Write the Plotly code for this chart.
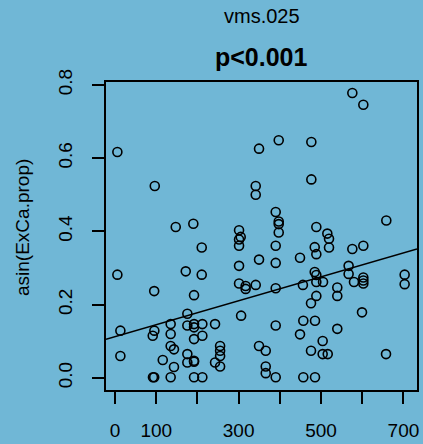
import plotly.graph_objects as go

# ---- data ----
vms_025 = [5.6, 349.5, 96.4, 341.5, 341.5, 576, 602.7, 397.3, 476.5, 476.5,
           390, 397.3, 397.3, 397.3, 147.3, 190, 488.6, 658.5, 301, 305,
           301, 301, 210.4, 515.3, 519.4, 519.4, 390, 484.7, 488.6, 576,
           602.7, 449, 349.5, 390, 301, 567, 567, 5.6, 171.6, 210.4,
           484.7, 488.6, 488.6, 504.9, 580, 602.7, 602.7, 602.7, 703, 703,
           301, 317, 317, 341.5, 390, 456, 539.5, 95, 191.7, 488.6,
           539.5, 475.7, 175.5, 306, 599.5, 12.9, 95.4, 91.5, 135, 135,
           175.5, 191.7, 191.7, 211.9, 242.7, 191.7, 211.9, 390, 457, 485.4,
           449, 539.5, 504, 135, 143, 12.9, 115.8, 175.5, 175.5, 191.7,
           191.7, 143, 242.7, 255, 255, 255, 255, 349.5, 365.8, 365.8,
           365.8, 475.7, 504, 516.3, 657.8, 92, 95, 135, 191.7, 211.9,
           390, 457, 485.4]
asin_exca_prop = [0.617, 0.626, 0.524, 0.524, 0.500, 0.778, 0.746, 0.649, 0.644, 0.542,
                  0.453, 0.427, 0.420, 0.397, 0.412, 0.421, 0.412, 0.430, 0.403, 0.385,
                  0.378, 0.361, 0.356, 0.394, 0.380, 0.356, 0.361, 0.357, 0.338, 0.352,
                  0.361, 0.328, 0.323, 0.314, 0.306, 0.306, 0.284, 0.282, 0.291, 0.282,
                  0.289, 0.281, 0.262, 0.262, 0.262, 0.274, 0.266, 0.258, 0.282, 0.256,
                  0.258, 0.251, 0.243, 0.254, 0.245, 0.254, 0.247, 0.237, 0.226, 0.224,
                  0.224, 0.204, 0.175, 0.170, 0.179, 0.129, 0.129, 0.115, 0.147, 0.120,
                  0.143, 0.147, 0.138, 0.147, 0.147, 0.106, 0.115, 0.143, 0.156, 0.156,
                  0.119, 0.134, 0.101, 0.087, 0.078, 0.060, 0.049, 0.065, 0.042, 0.047,
                  0.044, 0.030, 0.042, 0.087, 0.074, 0.060, 0.031, 0.087, 0.074, 0.031,
                  0.013, 0.074, 0.065, 0.065, 0.065, 0.002, 0.002, 0.002, 0.002, 0.002,
                  0.002, 0.002, 0.002]

fit_intercept = 0.113
fit_slope = 0.000326

x_tick_values = [0, 100, 200, 300, 400, 500, 600, 700]
x_tick_labels = ["0", "100", "", "300", "", "500", "", "700"]
y_tick_values = [0.0, 0.2, 0.4, 0.6, 0.8]
y_tick_labels = ["0.0", "0.2", "0.4", "0.6", "0.8"]

panel_title = "vms.025"
p_label = "p<0.001"
y_title = "asin(ExCa.prop)"

# ---- figure ----
x_range = [-22, 733]
y_range = [-0.033, 0.808]
bg = "#70b7d6"
font_family = "Liberation Sans, Arial, Helvetica, sans-serif"

fig = go.Figure()
fig.add_trace(go.Scatter(
    x=vms_025, y=asin_exca_prop, mode="markers",
    marker=dict(symbol="circle-open", size=9, color="black", line=dict(width=1.6)),
    hoverinfo="skip", showlegend=False, cliponaxis=False,
))
line_x = x_range
line_y = [fit_intercept + fit_slope * v for v in line_x]
fig.add_trace(go.Scatter(
    x=line_x, y=line_y, mode="lines",
    line=dict(color="black", width=1.5),
    hoverinfo="skip", showlegend=False,
))

axis_common = dict(
    showgrid=False, zeroline=False, showline=True, linecolor="black",
    linewidth=1.5, mirror=True, ticks="outside", ticklen=12, tickwidth=1.5,
    tickcolor="black", automargin=False,
    tickfont=dict(family=font_family, size=19, color="black"),
)

fig.update_layout(
    width=423, height=444, autosize=False,
    margin=dict(l=106, r=6, t=82, b=54, autoexpand=False),
    paper_bgcolor=bg, plot_bgcolor=bg,
    font=dict(family=font_family, color="black"),
    xaxis=dict(range=x_range, tickmode="array", tickvals=x_tick_values,
               ticktext=x_tick_labels, ticklabelstandoff=10, **axis_common),
    yaxis=dict(range=y_range, tickmode="array", tickvals=y_tick_values,
               ticktext=y_tick_labels, tickangle=-90, ticklabelstandoff=13,
               **axis_common),
    annotations=[
        dict(text=panel_title, x=0.5, y=(390 - 16) / 308, xref="paper", yref="paper",
             xanchor="center", yanchor="middle", showarrow=False,
             font=dict(size=20, family=font_family, color="black")),
        dict(text="<b>" + p_label + "</b>", x=0.5, y=(390 - 57) / 308, xref="paper",
             yref="paper", xanchor="center", yanchor="middle", showarrow=False,
             font=dict(size=25, family=font_family, color="black")),
        dict(text=y_title, x=(22 - 106) / 311, y=(390 - 228) / 308, xref="paper",
             yref="paper", xanchor="center", yanchor="middle", showarrow=False,
             textangle=-90, font=dict(size=19, family=font_family, color="black")),
    ],
)

fig.write_html(
    "out.html",
    config={"displayModeBar": False},
    post_script="document.body.style.margin='0';document.body.style.overflow='hidden';",
)
